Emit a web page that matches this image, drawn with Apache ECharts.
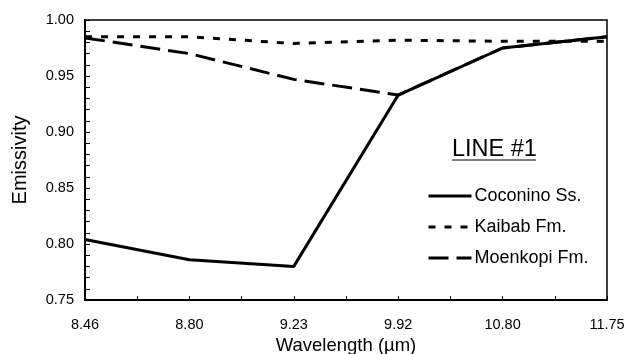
<!DOCTYPE html>
<html>
<head>
<meta charset="utf-8">
<script src="https://cdn.jsdelivr.net/npm/echarts@6/dist/echarts.min.js"></script>
<style>
html, body { margin: 0; padding: 0; background: #fff; }
#chart { width: 628px; height: 354px; }
</style>
</head>
<body>
<div id="chart"></div>
<script>
// wavelengths are placed evenly, like categories
let wavelengths = ['8.46', '8.80', '9.23', '9.92', '10.80', '11.75'];
let coconino = [0.804, 0.786, 0.780, 0.933, 0.975, 0.985];
let kaibab = [0.985, 0.985, 0.979, 0.982, 0.981, 0.981];
let moenkopi = [0.984, 0.970, 0.947, 0.933, 0.975, 0.985];

let font = 'Liberation Sans, Arial, sans-serif';
let myChart = echarts.init(document.getElementById('chart'));

function toPairs(values) {
    return values.map(function (v, i) { return [i, v]; });
}

let option = {
    animation: false,
    grid: {
        left: 85, right: 21, top: 20, bottom: 54,
        outerBoundsMode: 'none',
        show: true, borderColor: '#000', borderWidth: 1.5
    },
    legend: {
        orient: 'vertical',
        left: 427, top: 187, padding: 0,
        itemWidth: 43, itemHeight: 14, itemGap: 13,
        itemStyle: {opacity: 0},
        lineStyle: {width: 3},
        textStyle: {fontFamily: font, fontSize: 18, color: '#000', padding: [0, 0, 0, -2]},
        data: ['Coconino Ss.', 'Kaibab Fm.', 'Moenkopi Fm.']
    },
    graphic: [
        {
            type: 'text', left: 452, top: 138,
            style: {text: 'LINE #1', font: '23.5px ' + font, fill: '#000'}
        },
        {
            type: 'line',
            shape: {x1: 452, y1: 160, x2: 536, y2: 160},
            style: {stroke: '#000', lineWidth: 1.2}
        }
    ],
    xAxis: {
        type: 'value',
        min: 0, max: wavelengths.length - 1, interval: 1,
        name: 'Wavelength (\u00b5m)',
        nameLocation: 'middle',
        nameGap: 34,
        nameTextStyle: {fontFamily: font, fontSize: 18.5, color: '#000'},
        axisLine: {lineStyle: {color: '#000', width: 2}},
        axisTick: {inside: true, length: 4, lineStyle: {color: '#000', width: 1}},
        minorTick: {show: true, splitNumber: 2, length: 4, lineStyle: {color: '#000', width: 1}},
        axisLabel: {fontFamily: font, fontSize: 14.5, color: '#000', margin: 17,
            formatter: function (v) { return wavelengths[v]; }},
        splitLine: {show: false}
    },
    yAxis: {
        type: 'value',
        min: 0.75, max: 1.0, interval: 0.05,
        name: 'Emissivity',
        nameLocation: 'middle',
        nameGap: 55,
        nameTextStyle: {fontFamily: font, fontSize: 20, color: '#000'},
        axisLine: {show: true, lineStyle: {color: '#000', width: 2}},
        axisTick: {show: true, inside: true, length: 5, lineStyle: {color: '#000'}},
        minorTick: {show: true, splitNumber: 5, length: 5, lineStyle: {color: '#000'}},
        axisLabel: {fontFamily: font, fontSize: 14.5, color: '#000', margin: 11,
            formatter: function (v) { return v.toFixed(2); }},
        splitLine: {show: false}
    },
    series: [
        {
            name: 'Coconino Ss.', type: 'line', data: toPairs(coconino),
            symbol: 'none', z: 3,
            lineStyle: {color: '#000', width: 3, type: 'solid'},
            itemStyle: {color: '#000'}
        },
        {
            name: 'Kaibab Fm.', type: 'line', data: toPairs(kaibab),
            symbol: 'none', z: 2,
            lineStyle: {color: '#000', width: 3, type: [7, 9]},
            itemStyle: {color: '#000'}
        },
        {
            name: 'Moenkopi Fm.', type: 'line', data: toPairs(moenkopi),
            symbol: 'none', z: 2,
            lineStyle: {color: '#000', width: 3, type: [20, 8]},
            itemStyle: {color: '#000'}
        }
    ]
};
myChart.setOption(option);
</script>
</body>
</html>
